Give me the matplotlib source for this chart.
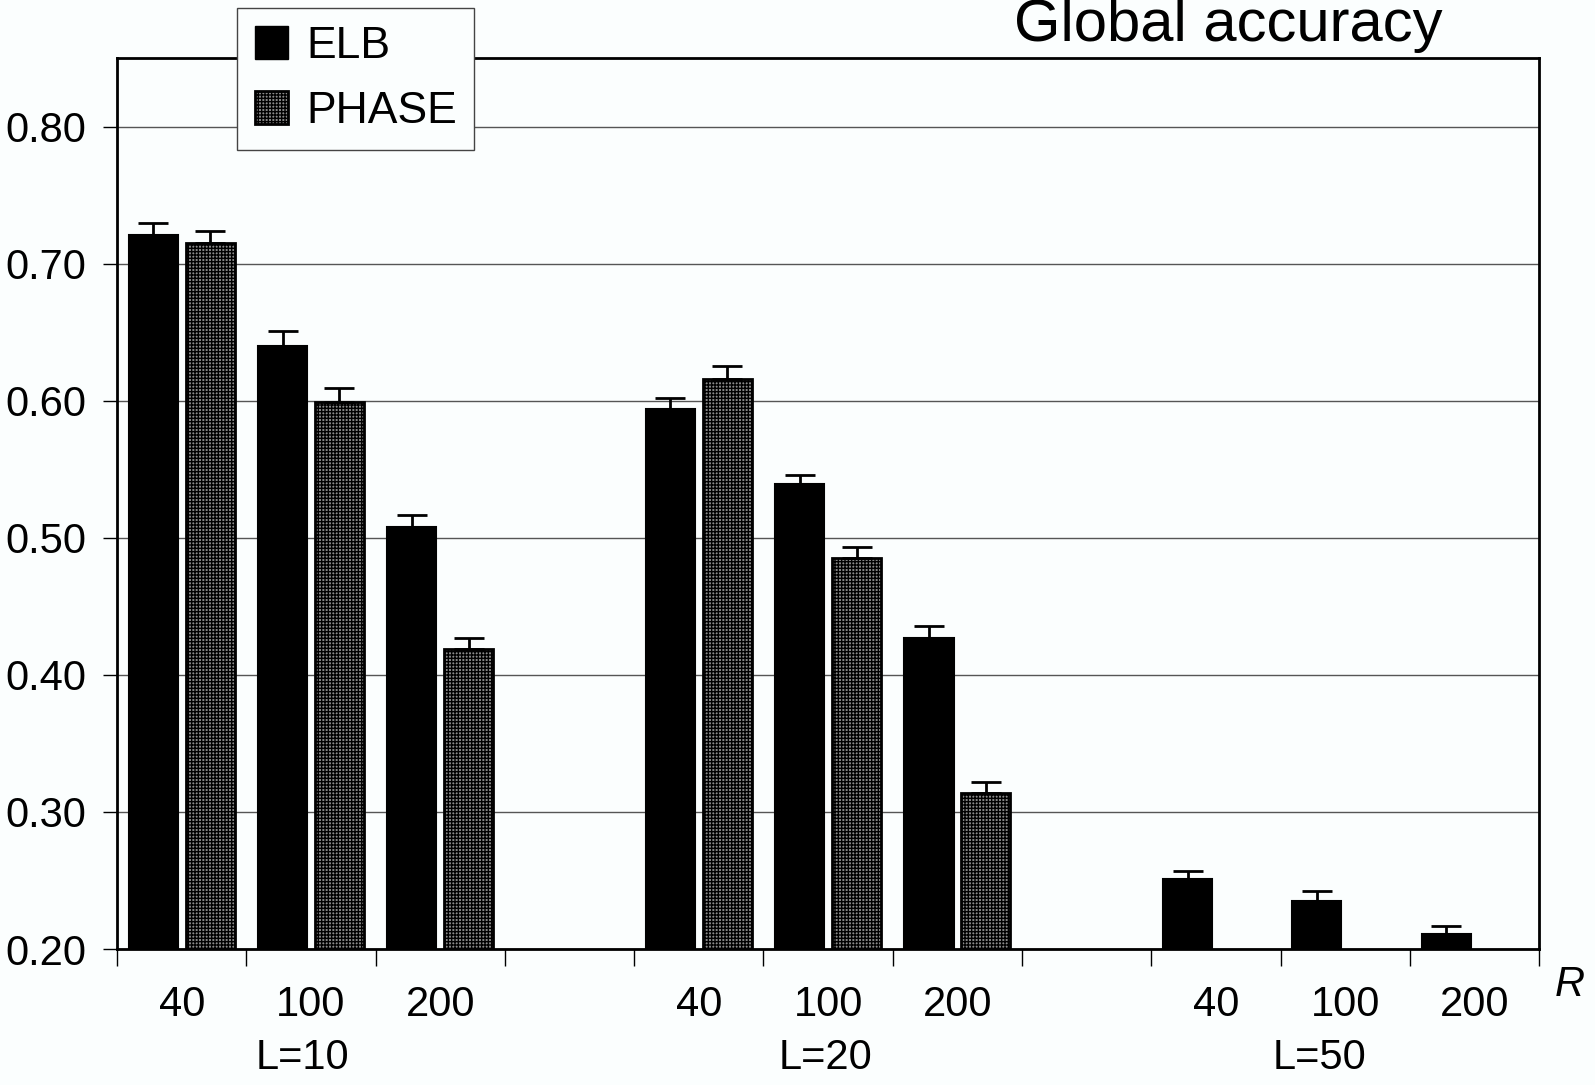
import numpy as np
import matplotlib
matplotlib.use("Agg")
import matplotlib.pyplot as plt
import matplotlib.transforms as mtransforms
from matplotlib.patches import Patch

plt.rcParams['font.family'] = ['Liberation Sans', 'DejaVu Sans']
plt.rcParams['hatch.color'] = '#a8a8a8'

groups = ['L=10', 'L=20', 'L=50']
r_labels = ['40', '100', '200']
elb = [0.721, 0.640, 0.508, 0.594, 0.539, 0.427, 0.251, 0.235, 0.211]
elb_err = [0.009, 0.011, 0.009, 0.008, 0.007, 0.009, 0.006, 0.007, 0.006]
phase = [0.715, 0.599, 0.419, 0.616, 0.485, 0.314, np.nan, np.nan, np.nan]
phase_err = [0.009, 0.010, 0.008, 0.009, 0.008, 0.008, np.nan, np.nan, np.nan]

bg = '#fbfefe'
fs = 30
fig = plt.figure(figsize=(15.95, 10.85), dpi=100, facecolor=bg)
ax = fig.add_axes([0.0734, 0.1253, 0.8916, 0.8212], facecolor=bg)

# slot centers: 3 bars per group, one empty slot between groups
slots = np.array([g * 4 + r for g in range(3) for r in range(3)]) + 0.5
off, w = 0.22, 0.38

ax.bar(slots - off, elb, w, color='black', edgecolor='black',
       linewidth=1.5, zorder=3)
ph = np.array(phase)
ok = ~np.isnan(ph)
ax.bar(slots[ok] + off, ph[ok], w, color='#8a8a8a', edgecolor='black',
       linewidth=2, hatch='+++++', zorder=3)

ax.errorbar(slots - off, elb, yerr=[np.zeros(9), elb_err], fmt='none',
            ecolor='black', elinewidth=2, capsize=11, capthick=2, zorder=4)
ax.errorbar(slots[ok] + off, ph[ok], yerr=[np.zeros(ok.sum()), np.array(phase_err)[ok]],
            fmt='none', ecolor='black', elinewidth=2, capsize=11, capthick=2, zorder=4)

ax.set_ylim(0.2, 0.85)
ax.set_xlim(0, 11)
yt = np.arange(0.2, 0.81, 0.1)
ax.set_yticks(yt)
ax.set_yticklabels([f'{v:.2f}' for v in yt])
ax.yaxis.grid(True, color='#555555', linewidth=1.0, zorder=0)
ax.set_axisbelow(True)
ax.tick_params(axis='y', length=10, width=1, pad=12, labelsize=fs, direction='out')
ax.set_xticks(np.arange(0, 12))
ax.set_xticklabels([])
ax.tick_params(axis='x', length=12, width=1, direction='out')
for s in ax.spines.values():
    s.set_linewidth(2)

trans = mtransforms.blended_transform_factory(ax.transData, ax.transAxes)
for i, x in enumerate(slots):
    ax.text(x, -0.063, r_labels[i % 3], transform=trans, ha='center', va='center',
            fontsize=fs)
for x, g in zip([1.43, 5.48, 9.30], groups):
    ax.text(x, -0.122, g, transform=trans, ha='center', va='center', fontsize=fs)
ax.text(11.12, -0.04, 'R', transform=trans, ha='left', va='center',
        fontsize=fs, style='italic')

fig.text(0.770, 0.962, 'Global accuracy', ha='center', va='baseline', fontsize=43)

handles = [Patch(facecolor='black', edgecolor='black'),
           Patch(facecolor='#8a8a8a', edgecolor='black', hatch='+++++', linewidth=2)]
leg = fig.legend(handles, ['ELB', 'PHASE'], loc='upper left',
                 bbox_to_anchor=(237 / 1595, 1 - 8 / 1085), fontsize=32,
                 frameon=True, fancybox=False, handlelength=0.75, handleheight=0.75,
                 handletextpad=0.4, labelspacing=0.55, borderpad=0.4,
                 borderaxespad=0)
leg.get_frame().set_edgecolor('#444444')
leg.get_frame().set_linewidth(1)
leg.get_frame().set_facecolor(bg)
leg.get_frame().set_alpha(1)

fig.savefig('out.png', dpi=100, facecolor=bg)
